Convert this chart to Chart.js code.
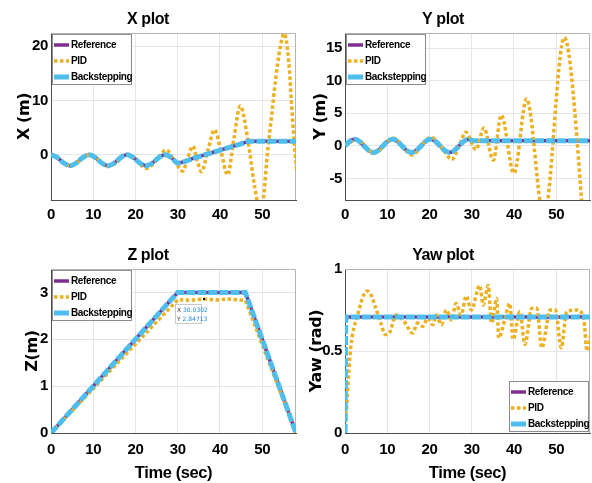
<!DOCTYPE html>
<html>
<head>
<meta charset="utf-8">
<script src="https://cdn.jsdelivr.net/npm/chart.js@4.4.1/dist/chart.umd.min.js"></script>
<style>
  body { margin: 0; background: #fff; overflow: hidden; }
  canvas { position: absolute; }
</style>
</head>
<body>
<canvas id="xplot" width="300" height="240" style="left:0;top:0"></canvas>
<canvas id="yplot" width="296" height="240" style="left:296px;top:0"></canvas>
<canvas id="zplot" width="300" height="243" style="left:0;top:240px"></canvas>
<canvas id="yawplot" width="296" height="243" style="left:296px;top:240px"></canvas>
<script>
// series labels
const names = ['Reference', 'PID', 'Backstepping'];
const timeTicks = [0, 10, 20, 30, 40, 50];

// X plot
const tX = [0,1.5,3,4.5,6,7.5,9,10.5,12,13.5,15,16.5,18,19.5,21,22.5,24,25.5,27,28.5,30,34,38,42,45,47,58];
const xRef = [0,-0.5,-1.5,-2,-1.5,-0.5,0,-0.5,-1.5,-2,-1.5,-0.5,0,-0.5,-1.5,-2,-1.5,-0.5,0,-0.5,-1.5,-0.56,0.38,1.32,2.03,2.5,2.5];
const xBack = xRef;
const tXPid = [0,1.6,3.1,4.7,6.2,7.7,9.2,10.7,12.2,13.7,15.2,16.7,18.2,19.7,21.2,22.5,24,25.6,27.3,29.3,31.2,32.4,33.6,34.6,35.6,37.2,38.7,40.3,41.8,43.3,44.8,46.6,48.2,49.6,50.3,51.2,52.2,53.2,54.2,55.2,56.3,56.9,57.6,58.2];
const xPid = [0,-0.45,-1.45,-2.05,-1.5,-0.45,0.05,-0.5,-1.6,-2.15,-1.6,-0.5,0.1,-0.55,-1.8,-2.5,-1.8,-0.3,0.9,-1.2,-3.0,-0.5,1.6,-1.0,-3.1,1.0,4.6,0.5,-3.7,3.0,9.0,2.8,-5.8,-10.5,-8,0,7,14,19.5,22.3,17,10,2,-3.2];
const xTicks = [0, 10, 20];

// Y plot
const tY = [0,1.125,2.25,3.375,4.5,5.625,6.75,7.875,9,10.125,11.25,12.375,13.5,14.625,15.75,16.875,18,19.125,20.25,21.375,22.5,23.625,24.75,25.875,27,28.125,29.25,30.5,58];
const yRef = [0,0.71,1,0.71,0,-0.71,-1,-0.71,0,0.71,1,0.71,0,-0.71,-1,-0.71,0,0.71,1,0.71,0,-0.71,-1,-0.71,0,0.71,1,0.8,0.8];
const yBack = yRef;
const tYPid = [0,1.4,2.6,3.7,4.8,5.9,7.0,8.1,9.2,10.3,11.4,12.5,13.6,14.7,15.9,17,18.1,19.2,20.4,21.5,22.6,23.8,25.3,27,28.6,31,32.9,35.1,37,40,43,47.1,51.9,57.5];
const yPid = [0,0.6,1.0,0.7,0,-0.75,-1.1,-0.75,0,0.8,1.15,0.8,0,-0.9,-1.4,-0.9,0,0.9,1.3,0.9,0,-1.1,-2.1,0,2.1,-0.56,2.75,-2.2,4.7,-4.2,7.2,-11,16.6,-20];
const yTicks = [-5, 0, 5, 10, 15];

// Z plot
const tZ = [0, 30, 46, 58];
const zRef = [0, 3, 3, 0];
const zBack = zRef;
const tZPid = [0, 30.03, 33, 36, 39, 42, 46, 58];
const zPid = [0, 2.847, 2.83, 2.86, 2.84, 2.86, 2.83, 0];
const zTicks = [0, 1, 2, 3];
const zTip = [30.0302, 2.84713];

// Yaw plot
const tYawRef = [0, 58];
const yawRef = [0.707, 0.707];
const tYawBack = [0, 0.2, 58];
const yawBack = [0, 0.707, 0.707];
const tYawPid = [0,0.5,0.95,1.35,2.1,2.9,4.1,5.2,6.1,7.3,8.5,9.5,10.5,12.1,14,16,17.2,18.4,19.6,20.8,21.6,22.8,24,25.2,26.3,27.5,28.7,29.9,31.9,32.7,33.9,34.7,35.9,36.4,37.9,39,39.8,41.4,42.6,44.2,45.4,46.6,48.6,49.8,51.2,52.5,54.9,56.5,57.3,58.3];
const yawPid = [0,0.2,0.39,0.52,0.64,0.71,0.82,0.866,0.845,0.76,0.67,0.6,0.61,0.72,0.68,0.61,0.67,0.65,0.70,0.66,0.72,0.66,0.75,0.69,0.79,0.72,0.835,0.75,0.9,0.78,0.9,0.67,0.82,0.58,0.70,0.79,0.57,0.74,0.54,0.76,0.76,0.52,0.75,0.75,0.52,0.74,0.75,0.70,0.5,0.61];
const yawTicks = [0, 0.5, 1];

const SANS = '"Liberation Sans", Arial, sans-serif';
const purple = '#7E2F8E', orange = '#EDB120', blue = '#4DBEEE';

function pts(t, v) {
  return t.map((x, i) => ({ x: x, y: v[i] }));
}

// squeeze the text a little, the original uses a narrow helvetica
const squeeze = {
  id: 'squeeze',
  beforeLayout(chart) { chart.ctx.letterSpacing = '-0.4px'; },
  beforeDraw(chart) { chart.ctx.letterSpacing = '-0.4px'; }
};

// grey box on top and right of the plot area
const frame = {
  id: 'frame',
  beforeDatasetsDraw(chart) {
    const a = chart.chartArea, ctx = chart.ctx;
    ctx.save();
    ctx.strokeStyle = '#b4b4b4';
    ctx.lineWidth = 1;
    ctx.beginPath();
    ctx.moveTo(a.left, a.top + 0.5);
    ctx.lineTo(a.right - 0.5, a.top + 0.5);
    ctx.lineTo(a.right - 0.5, a.bottom);
    ctx.stroke();
    ctx.restore();
  }
};

// matlab style legend box inside the axes
const boxLegend = {
  id: 'boxLegend',
  afterDatasetsDraw(chart, args, opts) {
    const a = chart.chartArea, ctx = chart.ctx;
    const w = 80, h = 51;
    const x = opts.corner === 'br' ? a.right - w - 1 : a.left + 1;
    const y = opts.corner === 'br' ? a.bottom - h - 1 : a.top + 1;
    ctx.save();
    ctx.fillStyle = '#fff';
    ctx.fillRect(x, y, w, h);
    ctx.strokeStyle = '#8c8c8c';
    ctx.lineWidth = 1;
    ctx.strokeRect(x + 0.5, y + 0.5, w - 1, h - 1);
    ctx.font = 'bold 10px ' + SANS;
    ctx.letterSpacing = '-0.35px';
    ctx.textBaseline = 'middle';
    chart.data.datasets.forEach((ds, i) => {
      const cy = y + 11 + i * 16;
      ctx.strokeStyle = ds.borderColor;
      ctx.lineWidth = ds.borderWidth;
      ctx.setLineDash(ds.legendDash || []);
      ctx.beginPath();
      ctx.moveTo(x + 2, cy);
      ctx.lineTo(x + 17, cy);
      ctx.stroke();
      ctx.fillStyle = '#000';
      ctx.fillText(ds.label, x + 19, cy + 0.5);
    });
    ctx.restore();
  }
};

// data tip on the Z plot
const dataTip = {
  id: 'dataTip',
  afterDatasetsDraw(chart, args, opts) {
    if (!opts.point) return;
    const ctx = chart.ctx;
    const px = chart.scales.x.getPixelForValue(opts.point[0]);
    const py = chart.scales.y.getPixelForValue(opts.point[1]);
    const bx = Math.round(px - 3), by = Math.round(py + 4);
    ctx.save();
    ctx.letterSpacing = '0px';
    ctx.fillStyle = '#000';
    ctx.fillRect(Math.round(px) + 25, Math.round(py) - 2, 2, 2);
    ctx.fillStyle = '#fff';
    ctx.fillRect(bx, by, 27, 20);
    ctx.strokeStyle = '#c8c8c8';
    ctx.lineWidth = 1;
    ctx.strokeRect(bx + 0.5, by + 0.5, 26, 19);
    ctx.font = '6px "DejaVu Sans", sans-serif';
    ctx.textBaseline = 'middle';
    const rows = [['X ', opts.point[0].toFixed(4)], ['Y ', opts.point[1].toFixed(5)]];
    rows.forEach((r, i) => {
      const ty = by + 6 + i * 9;
      ctx.fillStyle = '#333';
      ctx.fillText(r[0], bx + 2, ty);
      ctx.fillStyle = '#1e88e5';
      ctx.fillText(r[1], bx + 2 + ctx.measureText(r[0]).width, ty);
    });
    ctx.restore();
  }
};

function makePlot(id, o) {
  const canvas = document.getElementById(id);
  const a = o.area;
  const mode = o.smooth ? 'monotone' : 'default';
  const datasets = [
    { label: names[0], data: pts(o.ref[0], o.ref[1]), borderColor: purple, borderWidth: 3.5,
      order: 2, cubicInterpolationMode: mode },
    { label: names[1], data: pts(o.pid[0], o.pid[1]), borderColor: orange, borderWidth: 3.5,
      borderDash: [3.5, 2.5], legendDash: [3.5, 2.5], order: 1, cubicInterpolationMode: mode },
    { label: names[2], data: pts(o.back[0], o.back[1]), borderColor: blue, borderWidth: 5,
      borderDash: [9, 2], order: 0, cubicInterpolationMode: mode }
  ];
  return new Chart(canvas.getContext('2d'), {
    type: 'line',
    data: { datasets: datasets },
    options: {
      responsive: false,
      animation: false,
      events: [],
      elements: { point: { radius: 0 } },
      layout: { padding: { left: 0, right: canvas.width - a.right, top: 0, bottom: 0 } },
      plugins: {
        legend: { display: false },
        tooltip: { enabled: false },
        title: {
          display: true, text: o.title, color: '#000',
          font: { family: SANS, size: 16, weight: 'bold' },
          padding: { top: a.top - 22.7, bottom: 3.5 }
        },
        boxLegend: { corner: o.legendCorner },
        dataTip: { point: o.tip }
      },
      scales: {
        x: {
          type: 'linear', min: 0, max: 58,
          afterFit: s => { s.height = canvas.height - a.bottom; },
          afterBuildTicks: s => { s.ticks = timeTicks.map(v => ({ value: v })); },
          grid: { color: '#e6e6e6', drawTicks: false },
          border: { color: '#4d4d4d' },
          ticks: { color: '#000', padding: o.xTitle ? 8 : 6, font: { family: SANS, size: 15, weight: 'bold' } },
          title: {
            display: !!o.xTitle, text: o.xTitle, color: '#000', padding: { top: 0, bottom: 0 },
            font: { family: SANS, size: 16.5, weight: 'bold' }
          }
        },
        y: {
          type: 'linear', min: o.yRange[0], max: o.yRange[1],
          afterFit: s => { s.width = a.left; },
          afterBuildTicks: s => { s.ticks = o.yTicks.map(v => ({ value: v })); },
          grid: { color: '#e6e6e6', drawTicks: false },
          border: { color: '#4d4d4d' },
          ticks: {
            color: '#000', padding: 3, callback: v => String(v),
            font: { family: SANS, size: 15, weight: 'bold' }
          },
          title: {
            display: true, text: o.yTitle, color: '#000', padding: { top: o.yTitlePad, bottom: 0 },
            font: { family: '"DejaVu Sans", sans-serif', size: 16, weight: 'bold' }
          }
        }
      }
    },
    plugins: [squeeze, frame, boxLegend, dataTip]
  });
}

makePlot('xplot', {
  title: 'X plot', yTitle: 'X (m)', yTitlePad: 15.5,
  area: { left: 51, right: 296, top: 33, bottom: 200 },
  yRange: [-8.3, 22.4], yTicks: xTicks, smooth: true, legendCorner: 'tl',
  ref: [tX, xRef], pid: [tXPid, xPid], back: [tX, xBack]
});

makePlot('yplot', {
  title: 'Y plot', yTitle: 'Y (m)', yTitlePad: 15,
  area: { left: 49, right: 294, top: 33, bottom: 200 },
  yRange: [-8.3, 17.3], yTicks: yTicks, smooth: true, legendCorner: 'tl',
  ref: [tY, yRef], pid: [tYPid, yPid], back: [tY, yBack]
});

makePlot('zplot', {
  title: 'Z plot', yTitle: 'Z(m)', yTitlePad: 23.5, xTitle: 'Time (sec)',
  area: { left: 51, right: 296, top: 29, bottom: 193 },
  yRange: [0, 3.5], yTicks: zTicks, smooth: false, legendCorner: 'tl', tip: zTip,
  ref: [tZ, zRef], pid: [tZPid, zPid], back: [tZ, zBack]
});

makePlot('yawplot', {
  title: 'Yaw plot', yTitle: 'Yaw (rad)', yTitlePad: 11, xTitle: 'Time (sec)',
  area: { left: 49, right: 294, top: 29, bottom: 193 },
  yRange: [0, 1], yTicks: yawTicks, smooth: true, legendCorner: 'br',
  ref: [tYawRef, yawRef], pid: [tYawPid, yawPid], back: [tYawBack, yawBack]
});
</script>
</body>
</html>
